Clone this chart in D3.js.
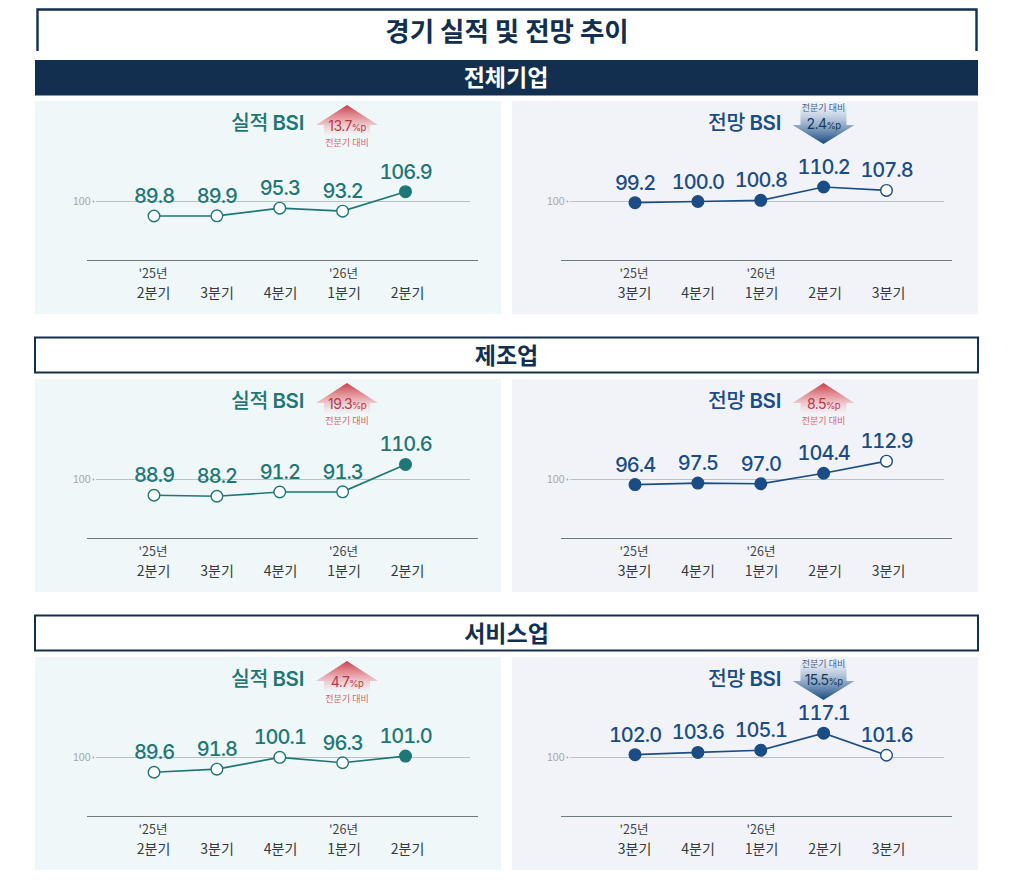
<!DOCTYPE html>
<html>
<head>
<meta charset="utf-8" />
<title>경기 실적 및 전망 추이</title>
<script src="https://cdn.jsdelivr.net/npm/d3@7"></script>
<style>
    html, body { margin:0; padding:0; background:#fff; }
    svg { display:block; font-family:"Inter","Noto Sans CJK KR",sans-serif; }
    .domain { display:none; }
    .val { font-variant-numeric:tabular-nums; }
</style>
</head>
<body>
<svg id="CHART" width="1024" height="894"></svg>
<script>
    // values
    var actualQuarters = ["2분기", "3분기", "4분기", "1분기", "2분기"];
    var actualYears = ["'25년", "", "", "'26년", ""];
    var forecastQuarters = ["3분기", "4분기", "1분기", "2분기", "3분기"];
    var forecastYears = ["'25년", "", "'26년", "", ""];

    var totalActual = [89.8, 89.9, 95.3, 93.2, 106.9];
    var totalForecast = [99.2, 100.0, 100.8, 110.2, 107.8];
    var makerActual = [88.9, 88.2, 91.2, 91.3, 110.6];
    var makerForecast = [96.4, 97.5, 97.0, 104.4, 112.9];
    var serviceActual = [89.6, 91.8, 100.1, 96.3, 101.0];
    var serviceForecast = [102.0, 103.6, 105.1, 117.1, 101.6];

    var actualChange = [13.7, 19.3, 4.7];
    var forecastChange = [-2.4, 8.5, -15.5];
    var sections = ["전체기업", "제조업", "서비스업"];

    var NAVY = "#122f4f", TEAL = "#1f7775", BLUE = "#1a4d85";
    var KR = "'Noto Sans CJK KR',sans-serif";
    var ROW_STEP = 278;

    var svg = d3.select("#CHART");
    var defs = svg.append("defs");

    function Grad(id, stops) {
        var g = defs.append("linearGradient").attr("id", id)
            .attr("x1", 0).attr("x2", 0).attr("y1", 0).attr("y2", 1);
        stops.forEach(function (s) {
            g.append("stop").attr("offset", s[0]).attr("stop-color", s[1]).attr("stop-opacity", s[2]);
        });
    }
    Grad("UP", [[0, "#c8404c", 1], [0.45, "#e58a90", 0.8], [1, "#f4c4c6", 0.05]]);
    Grad("DOWN", [[0, "#b9c8da", 0.05], [0.5, "#88a5c4", 0.85], [1, "#174a80", 1]]);

    /*-----------------------TITLE AND SECTION BARS------------------------*/
    svg.append("path")
        .attr("d", "M37.5,51V9.5H976.5V51")
        .attr("fill", "none").attr("stroke", NAVY).attr("stroke-width", 2.4);
    svg.append("text").attr("x", 507).attr("y", 41)
        .attr("text-anchor", "middle").attr("font-size", 26.5).attr("font-weight", 700)
        .attr("font-family", KR).attr("fill", NAVY).text("경기 실적 및 전망 추이");

    svg.append("rect").attr("x", 35).attr("y", 60).attr("width", 943).attr("height", 35.5).attr("fill", NAVY);
    svg.append("text").attr("x", 506).attr("y", 85.5)
        .attr("text-anchor", "middle").attr("font-size", 23).attr("font-weight", 700)
        .attr("font-family", KR).attr("fill", "#fff").text(sections[0]);

    [1, 2].forEach(function (i) {
        var top = 60 + ROW_STEP * i;
        svg.append("rect").attr("x", 35).attr("y", top - 0.5).attr("width", 943).attr("height", 35)
            .attr("fill", "#fff").attr("stroke", NAVY).attr("stroke-width", 2);
        svg.append("text").attr("x", 506.5).attr("y", top + 25.5)
            .attr("text-anchor", "middle").attr("font-size", 23).attr("font-weight", 700)
            .attr("font-family", KR).attr("fill", NAVY).text(sections[i]);
    });

    /*-----------------------ONE PANEL------------------------*/
    var y = d3.scaleLinear().domain([80, 120]).range([229.9, 173.1]);

    function DrawPanel(row, o) {
        var g = svg.append("g").attr("transform", "translate(0," + row * ROW_STEP + ")");

        g.append("rect").attr("x", o.left).attr("y", 101).attr("width", 466).attr("height", 213).attr("fill", o.bg);

        var idx = d3.range(o.values.length);
        var x = d3.scalePoint().domain(idx).range([o.left + o.shift + 119, o.left + o.shift + 370.5]);
        var xLabel = d3.scalePoint().domain(idx).range([o.left + o.shift + 118, o.left + o.shift + 372]);

        // 100 reference line
        var yAxis = d3.axisLeft(y).tickValues([100]).tickSize(-374).tickPadding(5.5).offset(0);
        var yG = g.append("g").attr("transform", "translate(" + (o.left + o.gridLeft) + ",0)").call(yAxis);
        yG.selectAll(".tick line").attr("stroke", "#bdc0c2").attr("stroke-width", 1);
        yG.selectAll(".tick text").attr("font-size", 10.5).attr("fill", "#a2a6a9");
        yG.selectAll(".tick").append("circle").attr("cx", -2.5).attr("r", 0.9).attr("fill", "#a2a6a9");

        // baseline with quarter labels
        var xAxis = d3.axisBottom(xLabel).tickSize(0).tickPadding(28)
            .tickFormat(function (i) { return o.quarters[i]; });
        var xG = g.append("g").attr("transform", "translate(0,260)").call(xAxis);
        xG.selectAll(".tick text").attr("font-size", 14).attr("font-family", KR).attr("fill", "#333a40");
        g.append("line").attr("x1", o.left + o.gridLeft - 9).attr("x2", o.left + o.gridLeft + 382)
            .attr("y1", 260.5).attr("y2", 260.5).attr("stroke", "#6f7a80").attr("stroke-width", 1);

        g.selectAll("text.year").data(idx.filter(function (i) { return o.years[i]; }))
            .enter().append("text").attr("class", "year")
            .attr("x", function (i) { return xLabel(i); }).attr("y", 278)
            .attr("text-anchor", "middle").attr("font-size", 12.5).attr("font-family", KR).attr("fill", "#3d4449")
            .text(function (i) { return o.years[i]; });

        // series
        var line = d3.line().x(function (d, i) { return x(i); }).y(function (d) { return y(d); });
        g.append("path").datum(o.values).attr("d", line)
            .attr("fill", "none").attr("stroke", o.color).attr("stroke-width", 1.7);

        g.selectAll("circle.pt").data(o.values).enter().append("circle").attr("class", "pt")
            .attr("cx", function (d, i) { return x(i); })
            .attr("cy", function (d) { return y(d); })
            .attr("r", 5.8)
            .attr("stroke", o.color).attr("stroke-width", 1.4)
            .attr("fill", function (d, i) { return o.filled(i) ? o.color : "#fff"; });

        g.selectAll("text.val").data(o.values).enter().append("text").attr("class", "val")
            .attr("x", function (d, i) { return x(i); })
            .attr("y", function (d) { return y(d) - 13; })
            .attr("text-anchor", "middle").attr("font-size", 20).attr("font-weight", 500)
            .attr("letter-spacing", -1).attr("fill", o.color)
            .text(function (d) { return d.toFixed(1); });

        // panel title
        var t = g.append("text").attr("x", o.left + o.titleX).attr("y", 130)
            .attr("text-anchor", "middle").attr("font-size", 20.5).attr("font-weight", 600)
            .attr("letter-spacing", -0.3).attr("fill", o.color);
        t.append("tspan").attr("font-family", KR).attr("font-weight", 500).text(o.title[0] + " ");
        t.append("tspan").text(o.title[1]);

        DrawChange(g, o.left + o.arrowX, o.change);
    }

    function DrawChange(g, cx, change) {
        var up = change > 0;
        var a = g.append("g").attr("transform", "translate(" + cx + ",0)");
        var d = up
            ? "M0,105L31,125H23V136H-23V125H-31Z"
            : "M0,144L31,125H23V104H-23V125H-31Z";
        a.append("path").attr("d", d).attr("fill", up ? "url(#UP)" : "url(#DOWN)");

        var v = a.append("text").attr("x", 0).attr("y", up ? 131 : 129)
            .attr("text-anchor", "middle").attr("font-size", 14).attr("font-weight", 400)
            .attr("letter-spacing", -0.6).attr("fill", up ? "#b5394a" : "#17375c");
        v.append("tspan").text(Math.abs(change).toFixed(1));
        v.append("tspan").attr("font-size", 9.5).text("%p");

        a.append("text").attr("x", 0).attr("y", up ? 146 : 111)
            .attr("text-anchor", "middle").attr("font-size", 9).attr("font-family", KR)
            .attr("fill", up ? "#d2656f" : "#41658c").text("전분기 대비");
    }

    var actualRows = [totalActual, makerActual, serviceActual];
    var forecastRows = [totalForecast, makerForecast, serviceForecast];

    actualRows.forEach(function (values, row) {
        DrawPanel(row, {
            left: 35, gridLeft: 61, shift: 0, bg: "#eff7f9", color: TEAL, title: ["실적", "BSI"], titleX: 232.5, arrowX: 312,
            values: values, quarters: actualQuarters, years: actualYears, change: actualChange[row],
            filled: function (i) { return i === values.length - 1; }
        });
    });
    forecastRows.forEach(function (values, row) {
        DrawPanel(row, {
            left: 512, gridLeft: 58, shift: 4, bg: "#f2f3f9", color: BLUE, title: ["전망", "BSI"], titleX: 232.5, arrowX: 311.5,
            values: values, quarters: forecastQuarters, years: forecastYears, change: forecastChange[row],
            filled: function (i) { return i !== values.length - 1; }
        });
    });
</script>
</body>
</html>
